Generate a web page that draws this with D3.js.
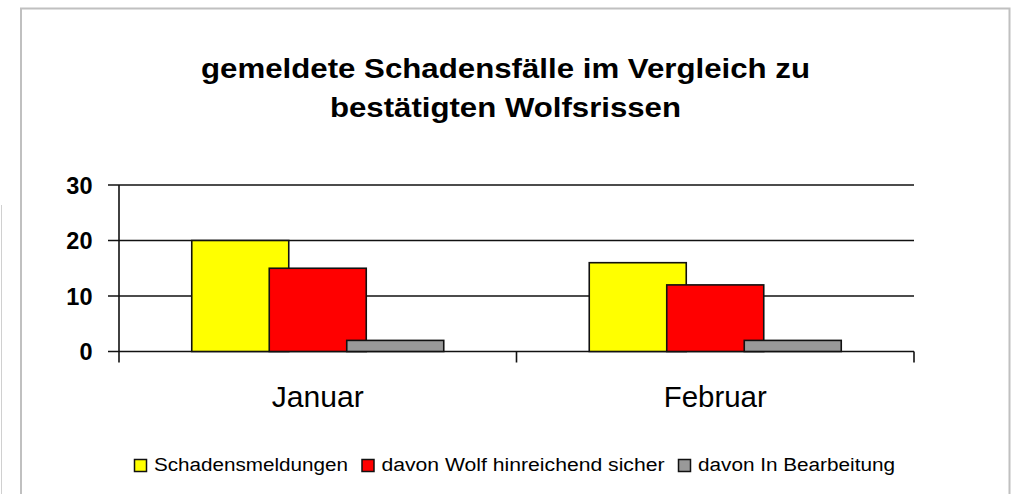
<!DOCTYPE html>
<html><head><meta charset="utf-8">
<script src="https://cdn.jsdelivr.net/npm/d3@7"></script>
<style>body{margin:0;background:#fff}svg{display:block}</style>
</head><body><svg id="c" width="1014" height="494"></svg>
<script>
const categories = ["Januar", "Februar"];
const seriesNames = ["Schadensmeldungen", "davon Wolf hinreichend sicher", "davon In Bearbeitung"];
const seriesColors = ["#ffff00", "#ff0000", "#999999"];
const schadensmeldungen = [20, 16];
const wolfSicher = [15, 12];
const inBearbeitung = [2, 2];
const yTicks = [0, 10, 20, 30];
const titleLines = ["gemeldete Schadensfälle im Vergleich zu", "bestätigten Wolfsrissen"];

(function(){
const series = [schadensmeldungen, wolfSicher, inBearbeitung];
const svg = d3.select("#c");
const font = "'Liberation Sans', Arial, sans-serif";

// frame
svg.append("line").attr("x1",1.5).attr("x2",1.5).attr("y1",205).attr("y2",494).attr("stroke","#d0d0d0").attr("stroke-width",1);
svg.append("path").attr("d","M21,494 V8.5 H1009.5 V494").attr("fill","none").attr("stroke","#c0c0c0").attr("stroke-width",2);

// title
const titleLen = [609, 351];
svg.append("g").selectAll("text").data(titleLines).join("text")
  .attr("x", 505.5).attr("y", (d,i)=>78 + i*39)
  .attr("text-anchor","middle").attr("font-family",font).attr("font-weight","bold")
  .attr("font-size",27.5).attr("fill","#000")
  .attr("textLength",(d,i)=>titleLen[i]).attr("lengthAdjust","spacingAndGlyphs")
  .text(d=>d);

const pLeft = 119, pRight = 914, pTop = 185, pBottom = 351.5;
const x = d3.scaleBand().domain(categories).range([pLeft, pRight]);
const y = d3.scaleLinear().domain([0, 30]).range([pBottom, pTop]);

// gridlines
svg.append("g").selectAll("line").data(yTicks).join("line")
  .attr("x1", pLeft-11).attr("x2", pRight).attr("y1", d=>y(d)).attr("y2", d=>y(d))
  .attr("stroke","#111").attr("stroke-width",1.6);

// y axis
svg.append("line").attr("x1",pLeft).attr("x2",pLeft).attr("y1",pTop).attr("y2",pBottom+11).attr("stroke","#111").attr("stroke-width",1.6);
// category boundary ticks
const bounds = categories.map(c=>x(c)+x.bandwidth());
svg.append("g").selectAll("line").data(bounds).join("line")
  .attr("x1",d=>d).attr("x2",d=>d).attr("y1",pBottom).attr("y2",pBottom+11)
  .attr("stroke","#111").attr("stroke-width",1.6);

// y labels
svg.append("g").selectAll("text").data(yTicks).join("text")
  .attr("x", 92.5).attr("y", d=>y(d)+8.5).attr("text-anchor","end")
  .attr("font-family",font).attr("font-weight","bold").attr("font-size",23.5).attr("fill","#000")
  .text(d=>d);

// bars
const barW = 97, step = 77.5;
series.forEach((vals, si) => {
  svg.append("g").selectAll("rect").data(vals).join("rect")
    .attr("x", (d,i)=> x(categories[i]) + x.bandwidth()/2 + (si-1)*step - barW/2)
    .attr("y", d=>y(d)).attr("width", barW).attr("height", d=>y(0)-y(d))
    .attr("fill", seriesColors[si]).attr("stroke","#111").attr("stroke-width",1.6);
});

// category labels
const catLen = [92, 103];
svg.append("g").selectAll("text").data(categories).join("text")
  .attr("x", d=>x(d)+x.bandwidth()/2).attr("y", 406.5).attr("text-anchor","middle")
  .attr("font-family",font).attr("font-size",29).attr("fill","#000")
  .attr("textLength",(d,i)=>catLen[i]).attr("lengthAdjust","spacingAndGlyphs")
  .text(d=>d);

// legend
const legendX = [134, 361.5, 678];
const legendLen = [194, 283, 197];
const lg = svg.append("g");
seriesNames.forEach((n, i) => {
  lg.append("rect").attr("x", legendX[i]+0.5).attr("y", 459.5).attr("width", 12).attr("height", 12)
    .attr("fill", seriesColors[i]).attr("stroke","#111").attr("stroke-width",1.5);
  lg.append("text").attr("x", legendX[i]+20).attr("y", 470.5)
    .attr("font-family",font).attr("font-size",18).attr("fill","#000")
    .attr("textLength", legendLen[i]).attr("lengthAdjust","spacingAndGlyphs").text(n);
});
})();
</script></body></html>
